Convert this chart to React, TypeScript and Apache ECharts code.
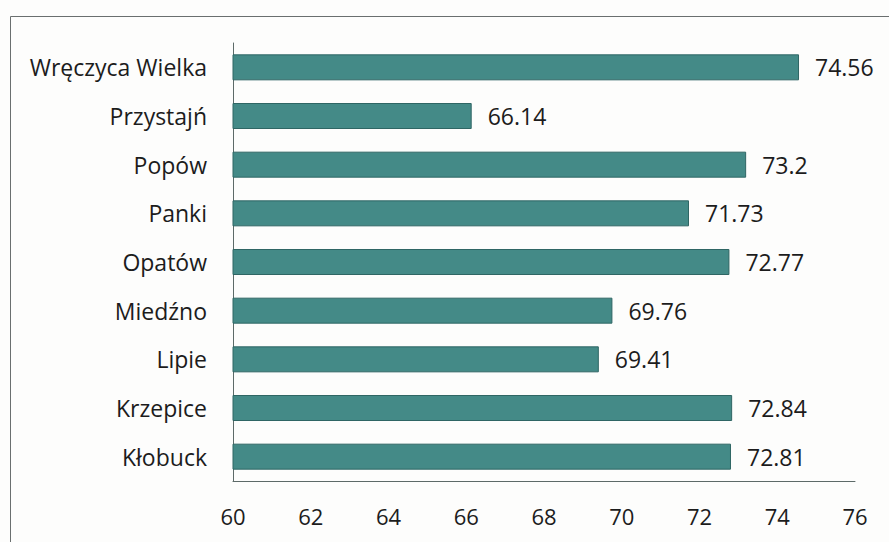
import React, { useEffect, useRef } from "react";
import * as echarts from "echarts";

const categories = [
  "Wręczyca Wielka",
  "Przystajń",
  "Popów",
  "Panki",
  "Opatów",
  "Miedźno",
  "Lipie",
  "Krzepice",
  "Kłobuck",
];
const values = [74.56, 66.14, 73.2, 71.73, 72.77, 69.76, 69.41, 72.84, 72.81];
const axisMin = 60;
const axisMax = 76;
const axisStep = 2;

export default function App() {
  const ref = useRef<HTMLDivElement>(null);
  useEffect(() => {
    if (!ref.current) return;
    const chart = echarts.init(ref.current, undefined, { renderer: "svg" });
    const font = "'Open Sans', 'Noto Sans', sans-serif";
    chart.setOption({
      animation: false,
      backgroundColor: "#fdfdfc",
      graphic: [
        {
          type: "rect",
          left: 8,
          top: 14,
          shape: { width: 900, height: 600 },
          style: { fill: "none", stroke: "#6a6f6f", lineWidth: 1 },
          silent: true,
        },
      ],
      grid: { left: 233, right: 34, top: 43, bottom: 61, containLabel: false },
      xAxis: {
        type: "value",
        min: axisMin,
        max: axisMax,
        interval: axisStep,
        splitLine: { show: false },
        axisTick: { show: false },
        axisLine: { show: true, lineStyle: { color: "#5d6a68", width: 1 } },
        axisLabel: { color: "#1c1c1c", fontSize: 22, fontFamily: font, margin: 24 },
      },
      yAxis: {
        type: "category",
        data: categories,
        inverse: true,
        axisTick: { show: false },
        axisLine: { show: true, lineStyle: { color: "#5d6a68", width: 1 } },
        axisLabel: { color: "#1c1c1c", fontSize: 23, fontFamily: font, margin: 26 },
      },
      series: [
        {
          type: "bar",
          data: values,
          barWidth: 26,
          itemStyle: { color: "#448a87", borderColor: "#2f6664", borderWidth: 1 },
          label: {
            show: true,
            position: "right",
            distance: 16,
            color: "#1c1c1c",
            fontSize: 23,
            fontFamily: font,
          },
        },
      ],
    });
    return () => chart.dispose();
  }, []);
  return (
    <div
      ref={ref}
      style={{ position: "fixed", left: 0, top: 0, width: 889, height: 542 }}
    />
  );
}
